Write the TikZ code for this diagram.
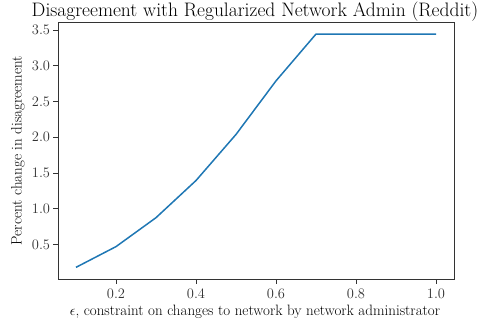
\documentclass[tikz,border=0pt]{standalone}
\definecolor{lineblue}{HTML}{1F77B4}
\tikzset{
  ticklabel/.style={font=\fontsize{14.5}{17}\selectfont, inner sep=0pt},
  axislabel/.style={font=\fontsize{15}{18}\selectfont, inner sep=0pt},
  plottitle/.style={font=\fontsize{19.5}{23}\selectfont, inner sep=0pt},
}
\begin{document}
\begin{tikzpicture}[x=1pt,y=-1pt]
  \useasboundingbox (0,0) rectangle (487,328);
  \node[plottitle] (title) at (255,12) {Disagreement with Regularized Network Admin (Reddit)};
  \node[axislabel] (xlab) at (255,312) {$\epsilon$, constraint on changes to network by network administrator};
  \node[axislabel, rotate=90] (ylab) at (18,150.5) {Percent change in disagreement};

  % data coordinates: x from 0.055 to 1.045, y from 0.0165 to 3.6135
  \begin{scope}[shift={(36,280.2)}, x=400pt, y=71.45pt]
    \draw[black!80, line width=0.8pt] (0.055,0.0165) rectangle (1.045,3.6135);
    \foreach \v in {0.2,0.4,0.6,0.8,1.0}{
      \draw[black!80, line width=0.8pt] (\v,0.0165) -- ++(0,-5pt)
        node[ticklabel, below=4.5pt] (xt\v) {\v};
    }
    \foreach \v in {0.5,1.0,1.5,2.0,2.5,3.0,3.5}{
      \draw[black!80, line width=0.8pt] (0.055,\v) -- ++(-5pt,0)
        node[ticklabel, left=2.5pt] (yt\v) {\v};
    }
    \draw[lineblue, line width=1.5pt, line join=round] plot coordinates {
      (0.1,0.18) (0.2,0.47) (0.3,0.875) (0.4,1.395) (0.5,2.04)
      (0.6,2.79) (0.7,3.445) (0.8,3.445) (0.9,3.445) (1.0,3.445)};
  \end{scope}
\end{tikzpicture}
\end{document}
